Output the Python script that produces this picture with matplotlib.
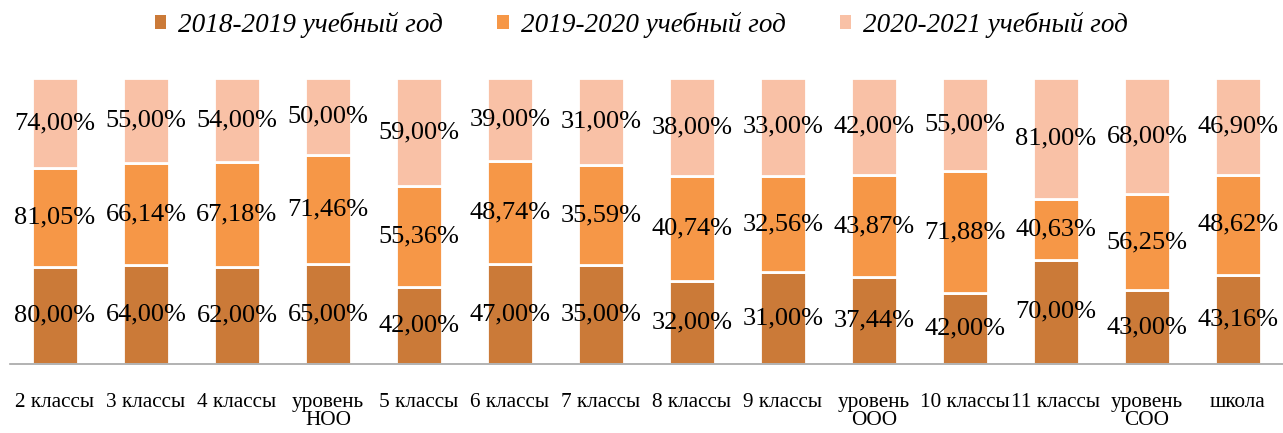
import numpy as np
import matplotlib.pyplot as plt

categories = ["2 классы", "3 классы", "4 классы", "уровень\nНОО", "5 классы", "6 классы",
              "7 классы", "8 классы", "9 классы", "уровень\nООО", "10 классы", "11 классы",
              "уровень\nСОО", "школа"]
y2018 = [80.00, 64.00, 62.00, 65.00, 42.00, 47.00, 35.00, 32.00, 31.00, 37.44, 42.00, 70.00, 43.00, 43.16]
y2019 = [81.05, 66.14, 67.18, 71.46, 55.36, 48.74, 35.59, 40.74, 32.56, 43.87, 71.88, 40.63, 56.25, 48.62]
y2020 = [74.00, 55.00, 54.00, 50.00, 59.00, 39.00, 31.00, 38.00, 33.00, 42.00, 55.00, 81.00, 68.00, 46.90]
series_names = ["2018-2019 учебный год", "2019-2020 учебный год", "2020-2021 учебный год"]
colors = ["#CB7A38", "#F69747", "#F9C1A6"]

plt.rcParams['font.family'] = ['Liberation Serif', 'DejaVu Serif']

fig = plt.figure(figsize=(12.83, 4.33), dpi=100)
ax = fig.add_axes([9.5 / 1283, 1 - 364 / 433, 1274 / 1283, (364 - 78) / 433])

data = np.array([y2018, y2019, y2020])
totals = data.sum(axis=0)
x = np.arange(len(categories))
bottom = np.zeros(len(categories))
for vals, name, col in zip(data, series_names, colors):
    frac = vals / totals
    ax.bar(x, frac, 0.5, bottom=bottom, color=col, edgecolor="white", linewidth=2, label=name)
    for xi, b, f, v in zip(x, bottom, frac, vals):
        ax.text(xi, b + f / 2, f"{v:.2f}%".replace(".", ","), ha="center", va="center", fontsize=19)
    bottom += frac

ax.set_xlim(-0.5, len(categories) - 0.5)
ax.set_ylim(0, 1)
ax.set_xticks(x)
ax.set_xticklabels(categories, fontsize=15.3, linespacing=0.95)
ax.tick_params(axis="x", length=0, pad=21)
ax.set_yticks([])
for s in ["top", "right", "left"]:
    ax.spines[s].set_visible(False)
ax.spines["bottom"].set_color("#A6A6A6")
ax.spines["bottom"].set_linewidth(1.2)

# legend at top
leg = fig.legend(loc="center", bbox_to_anchor=(0.5, 1 - 25 / 433), ncol=3, frameon=False,
                 prop={"style": "italic", "size": 19.5}, handlelength=0.42, handleheight=0.42,
                 handletextpad=0.45, columnspacing=2.0)
for h in leg.legend_handles:
    h.set_linewidth(0)

fig.savefig("out.png", dpi=100)
